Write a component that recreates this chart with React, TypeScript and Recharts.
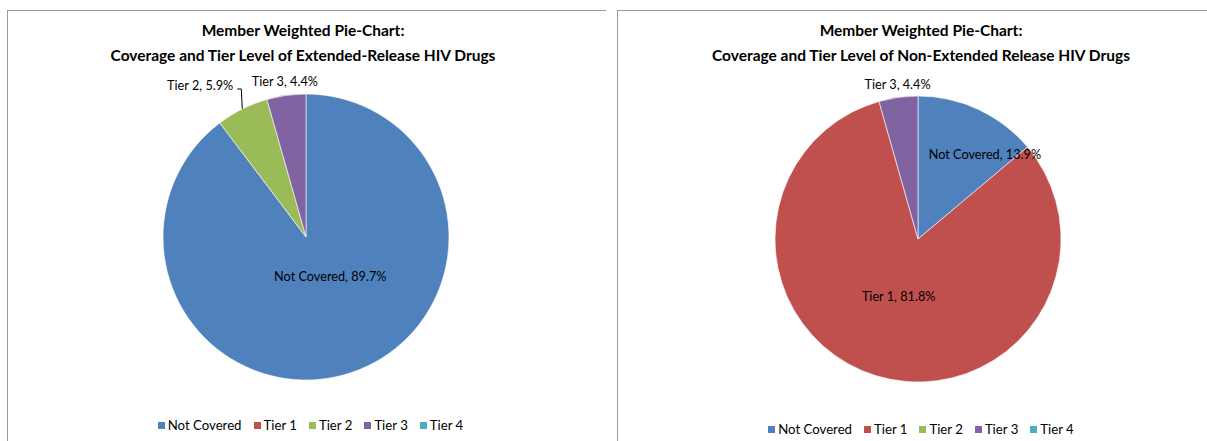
import React from 'react';
import { PieChart, Pie, Cell, Legend } from 'recharts';

const categories = ['Not Covered', 'Tier 1', 'Tier 2', 'Tier 3', 'Tier 4'];
const extendedValues = [89.7, 0, 5.9, 4.4, 0];
const nonExtendedValues = [13.9, 81.8, 0, 4.4, 0];
const sliceColors = ['#4F81BD', '#C0504D', '#9BBB59', '#8064A2', '#4BACC6'];
const extendedTitle = ['Member Weighted Pie-Chart:', 'Coverage and Tier Level of Extended-Release HIV Drugs'];
const nonExtendedTitle = ['Member Weighted Pie-Chart:', 'Coverage and Tier Level of Non-Extended Release HIV Drugs'];

const FONT = 'Lato, "Liberation Sans", Arial, sans-serif';
const RAD = Math.PI / 180;
const LABEL_SIZE = 12.7;

type LabelCfg = { r: number; dAngle: number; leader?: boolean };

const extendedLabelCfg: Record<string, LabelCfg> = {
  'Not Covered': { r: 0.32, dAngle: 13.5 },
  'Tier 2': { r: 1, dAngle: 0, leader: true },
  'Tier 3': { r: 1.1, dAngle: -0.2 },
};
const nonExtendedLabelCfg: Record<string, LabelCfg> = {
  'Not Covered': { r: 0.755, dAngle: -13.3 },
  'Tier 1': { r: 0.42, dAngle: -1.7 },
  'Tier 3': { r: 1.093, dAngle: -0.4 },
};

function makeLabel(cfgMap: Record<string, LabelCfg>) {
  return (props: any) => {
    const { cx, cy, midAngle, outerRadius, payload, value } = props;
    const name = payload?.name ?? props.name;
    const cfg = cfgMap[name];
    if (!cfg || !value) return null;
    const text = `${name}, ${Number(value).toFixed(1)}%`;
    if (cfg.leader) {
      const ex = cx + outerRadius * Math.cos(-midAngle * RAD);
      const ey = cy + outerRadius * Math.sin(-midAngle * RAD);
      return (
        <g>
          <polyline
            points={`${ex},${ey} ${ex - 1},${ey - 20} ${ex - 5},${ey - 20}`}
            fill="none"
            stroke="#000"
            strokeWidth={1}
          />
          <text x={ex - 9} y={ey - 24} textAnchor="end" dominantBaseline="central" fontSize={LABEL_SIZE} fontFamily={FONT} fill="#000">
            {text}
          </text>
        </g>
      );
    }
    const a = midAngle + cfg.dAngle;
    const x = cx + outerRadius * cfg.r * Math.cos(-a * RAD);
    const y = cy + outerRadius * cfg.r * Math.sin(-a * RAD);
    return (
      <text x={x} y={y} textAnchor="middle" dominantBaseline="central" fontSize={LABEL_SIZE} fontFamily={FONT} fill="#000">
        {text}
      </text>
    );
  };
}

const LegendContent = () => (
  <div style={{ display: 'flex', justifyContent: 'center', fontFamily: FONT, fontSize: 13.2, color: '#000' }}>
    {categories.map((c, i) => (
      <div key={c} style={{ display: 'flex', alignItems: 'center', marginRight: i < categories.length - 1 ? 12 : 0 }}>
        <span style={{ display: 'inline-block', width: 7, height: 7, background: sliceColors[i], marginRight: 3 }} />
        <span>{c}</span>
      </div>
    ))}
  </div>
);

type PanelProps = {
  left: number;
  width: number;
  values: number[];
  title: string[];
  titleCx: number;
  cx: number;
  cy: number;
  legendTop: number;
  legendShift: number;
  labelCfg: Record<string, LabelCfg>;
};

function Panel({ left, width, values, title, titleCx, cx, cy, legendTop, legendShift, labelCfg }: PanelProps) {
  const data = categories
    .map((name, i) => ({ name, value: values[i], color: sliceColors[i] }))
    .filter((d) => d.value > 0);
  return (
    <div
      style={{
        position: 'absolute',
        left,
        top: 10,
        width,
        height: 431,
        borderTop: '1px solid #9a9a9a',
        borderLeft: '1px solid #9a9a9a',
        boxSizing: 'border-box',
      }}
    >
      <div
        style={{
          position: 'absolute',
          left: titleCx - 300,
          width: 600,
          top: 7,
          textAlign: 'center',
          fontFamily: FONT,
          fontWeight: 700,
          fontSize: 15.5,
          lineHeight: '25px',
          color: '#000',
        }}
      >
        <div>{title[0]}</div>
        <div>{title[1]}</div>
      </div>
      <div style={{ position: 'absolute', left: -1, top: -1 }}>
        <PieChart width={width} height={431} margin={{ top: 0, right: 0, bottom: 0, left: 0 }}>
          <Pie
            data={data}
            dataKey="value"
            nameKey="name"
            cx={cx}
            cy={cy}
            outerRadius={143}
            startAngle={90}
            endAngle={-270}
            stroke="#ffffff"
            strokeWidth={0.6}
            isAnimationActive={false}
            labelLine={false}
            label={makeLabel(labelCfg)}
          >
            {data.map((d) => (
              <Cell key={d.name} fill={d.color} />
            ))}
          </Pie>
          <Legend
            content={<LegendContent />}
            wrapperStyle={{ position: 'absolute', top: legendTop, left: legendShift, width: width, bottom: 'auto' }}
          />
        </PieChart>
      </div>
    </div>
  );
}

export default function App() {
  return (
    <div style={{ position: 'fixed', left: 0, top: 0, width: 1207, height: 441, background: '#fff', overflow: 'hidden' }}>
      <Panel
        left={7}
        width={599}
        values={extendedValues}
        title={extendedTitle}
        titleCx={295}
        cx={299}
        cy={227}
        legendTop={407}
        legendShift={4}
        labelCfg={extendedLabelCfg}
      />
      <Panel
        left={617}
        width={590}
        values={nonExtendedValues}
        title={nonExtendedTitle}
        titleCx={303}
        cx={301}
        cy={229}
        legendTop={411}
        legendShift={9}
        labelCfg={nonExtendedLabelCfg}
      />
    </div>
  );
}
